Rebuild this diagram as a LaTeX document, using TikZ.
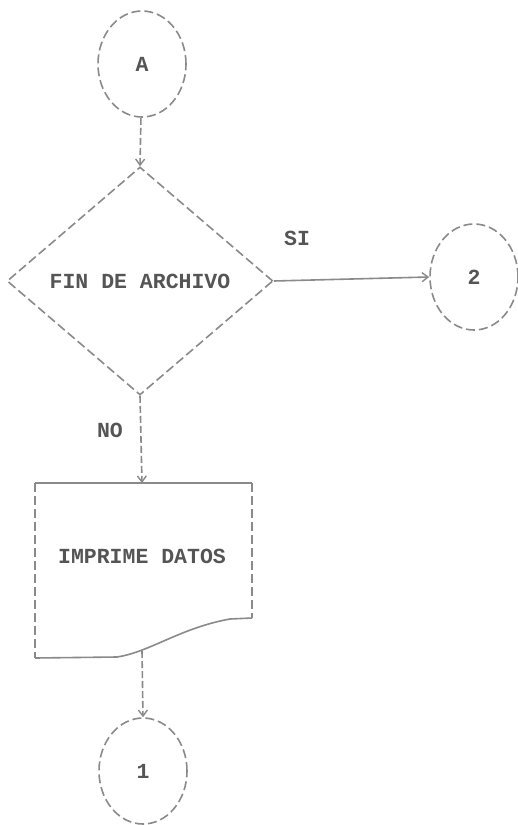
\documentclass[tikz,border=0pt]{standalone}
\usepackage{fontspec}
\setmonofont{Liberation Mono}
\usetikzlibrary{shapes.geometric,arrows.meta}
\definecolor{ink}{HTML}{8A8A8A}
\definecolor{txt}{HTML}{555555}
\tikzset{
  lbl/.style={font=\ttfamily\bfseries\fontsize{21.5}{24}\selectfont, text=txt},
  dline/.style={draw=ink, line width=1.6pt, dash pattern=on 9pt off 4pt},
  sline/.style={draw=ink, line width=1.6pt},
  conn/.style={draw=ink, line width=1.6pt, -{Straight Barb[length=6pt,width=9pt,line width=1.4pt]}},
  dconn/.style={conn, dash pattern=on 7pt off 3pt},
  term/.style={ellipse, dline, minimum width=88pt, minimum height=106pt, inner sep=0pt, lbl},
  decision/.style={diamond, dline, minimum width=266pt, minimum height=228pt, inner sep=0pt, lbl}
}
\begin{document}
\begin{tikzpicture}[x=1pt,y=-1pt]
\useasboundingbox (0,0) rectangle (518,825);
\fill[white] (0,0) rectangle (518,825);
% nodes
\node[term] (A) at (142,64) {A};
\node[decision, aspect=1.1667] (dec) at (140,281) {FIN DE ARCHIVO};
\node[term] (c2) at (474,277) {2};
\node[lbl] (doc) at (142,556) {IMPRIME DATOS};
\node[term] (c1) at (143,771) {1};
% document shape
\coordinate (dtl) at (35,483);
\coordinate (dtr) at (252,483);
\coordinate (dbr) at (252,618);
\coordinate (dbl) at (35,658);
\coordinate (doct) at (142,483);
\coordinate (docb) at (142,651);
\draw[sline] (dtl) -- (dtr);
\draw[dline] (dtr) -- (dbr);
\draw[dline] (dtl) -- (dbl);
\draw[sline] (dbr) -- (230,619) .. controls (180,628) and (150,652) .. (117,657) -- (dbl);
% connectors
\draw[dconn] (A) -- (dec.north);
\draw[conn] (dec.east) -- (c2.west);
\draw[dconn] (dec.south) -- (doct);
\draw[dconn] (docb) -- (c1.north);
% labels
\node[lbl] (si) at (297,238) {SI};
\node[lbl] (no) at (110,430) {NO};
\end{tikzpicture}
\end{document}
